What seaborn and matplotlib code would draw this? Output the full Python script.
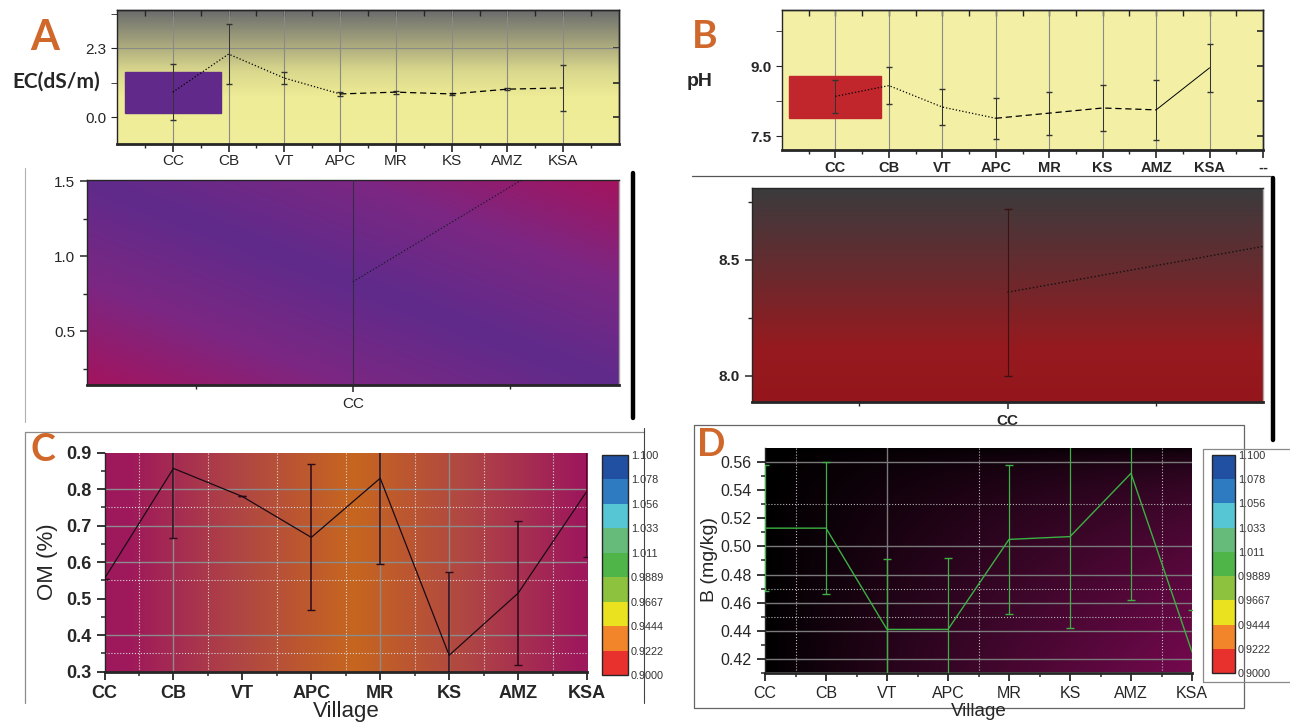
import numpy as np
import matplotlib
matplotlib.use('Agg')
import matplotlib.pyplot as plt
import seaborn as sns
from matplotlib.colors import LinearSegmentedColormap, ListedColormap, BoundaryNorm
from matplotlib.cm import ScalarMappable
from matplotlib.lines import Line2D
from matplotlib.patches import Rectangle
from matplotlib.ticker import NullFormatter

# data
villages = ['CC', 'CB', 'VT', 'APC', 'MR', 'KS', 'AMZ', 'KSA']
ec_mean = [0.83, 2.10, 1.30, 0.77, 0.83, 0.77, 0.93, 0.97]
ec_err = [0.93, 1.00, 0.20, 0.08, 0.05, 0.03, 0.04, 0.78]
ph_mean = [8.36, 8.59, 8.13, 7.89, 8.00, 8.11, 8.07, 8.97]
ph_err = [0.36, 0.39, 0.39, 0.44, 0.46, 0.50, 0.64, 0.52]
om_mean = [0.555, 0.857, 0.78, 0.668, 0.83, 0.345, 0.515, 0.795]
om_err = [0.0, 0.19, 0.0, 0.20, 0.235, 0.228, 0.198, 0.182]
b_mean = [0.513, 0.513, 0.441, 0.441, 0.505, 0.507, 0.552, 0.425]
b_err = [0.045, 0.047, 0.05, 0.051, 0.053, 0.065, 0.09, 0.03]
cbar_levels = [0.9000, 0.9222, 0.9444, 0.9667, 0.9889, 1.011, 1.033, 1.056, 1.078, 1.100]
cbar_labels = ['0.9000', '0.9222', '0.9444', '0.9667', '0.9889', '1.011', '1.033', '1.056', '1.078', '1.100']
cbar_colors = ['#e8312d', '#f2852a', '#ebe21f', '#8dc23f', '#4fb548', '#66bb7a', '#56c5d4', '#2f7bc2', '#2150a2']

sns.set_style('ticks')
plt.rcParams['font.family'] = ['Liberation Sans', 'DejaVu Sans']
plt.rcParams['axes.linewidth'] = 1.0

W, H = 1290, 722
fig = plt.figure(figsize=(12.9, 7.22), dpi=100)
ORANGE = '#d0672b'
xs = list(range(len(villages)))
u = np.linspace(0, 1, 300)
U, V = np.meshgrid(u, u)


def box(l, t, r, b):
    return [l / W, 1 - b / H, (r - l) / W, (b - t) / H]


def ftext(x, y, s, **kw):
    fig.text(x / W, 1 - y / H, s, **kw)


def fline(xx, yy, **kw):
    fig.add_artist(Line2D([x / W for x in xx], [1 - y / H for y in yy],
                          transform=fig.transFigure, **kw))


def backdrop(ax, img, cmap):
    x0, x1 = ax.get_xlim()
    y0, y1 = ax.get_ylim()
    ax.imshow(img, extent=[x0, x1, y0, y1], origin='lower', aspect='auto',
              cmap=cmap, vmin=0, vmax=1, zorder=0, interpolation='bilinear')
    ax.set_xlim(x0, x1)
    ax.set_ylim(y0, y1)


def inner_ticks(ax, xmaj, xmin, ymaj, ymin):
    top = ax.secondary_xaxis('top')
    top.set_xticks(xmaj)
    top.set_xticks(xmin, minor=True)
    top.xaxis.set_major_formatter(NullFormatter())
    top.tick_params(which='both', direction='in', length=4, width=1)
    right = ax.secondary_yaxis('right')
    right.set_yticks(ymaj)
    right.set_yticks(ymin, minor=True)
    right.yaxis.set_major_formatter(NullFormatter())
    right.tick_params(which='both', direction='in', length=4, width=1.2)


def level_bar(rect):
    cax = fig.add_axes(rect)
    cmap = ListedColormap(cbar_colors)
    norm = BoundaryNorm(cbar_levels, cmap.N)
    cb = fig.colorbar(ScalarMappable(norm=norm, cmap=cmap), cax=cax, ticks=cbar_levels)
    cb.ax.set_yticklabels(cbar_labels, fontsize=7.8, color='#333333')
    cb.ax.tick_params(length=0, pad=2)
    cb.outline.set_linewidth(1.0)


# ---------------- A (EC) ----------------
axA = fig.add_axes(box(117, 10, 619, 144))
axA.set_xlim(-1, 8)
axA.set_ylim(-0.9, 3.57)
cmapA = LinearSegmentedColormap.from_list('a', [(0, '#f0ee9a'), (0.35, '#eeec96'), (0.55, '#d9d78c'),
                                                (0.75, '#a7a67d'), (1, '#6b6d6d')])
backdrop(axA, V, cmapA)
for x in xs:
    axA.axvline(x, color='#8a8a86', lw=0.8, zorder=1)
axA.axhline(2.3, color='#8a8a86', lw=0.8, zorder=1)
axA.add_patch(Rectangle((-0.86, 0.13), 1.72, 1.37, color='#612a8a', zorder=2))
axA.errorbar(xs, ec_mean, yerr=ec_err, fmt='none', ecolor='#333333', elinewidth=0.7, capsize=2.5, zorder=3)
sns.lineplot(x=xs[:4], y=ec_mean[:4], ax=axA, color='k', lw=0.9, linestyle=':', zorder=4)
sns.lineplot(x=xs[3:], y=ec_mean[3:], ax=axA, color='k', lw=0.9, linestyle=(0, (5, 3)), zorder=4)
axA.set_xticks(xs, villages, fontsize=11)
axA.set_xticks(np.arange(-0.5, 8, 1), minor=True)
axA.set_yticks([0.0, 2.3], ['0.0', '2.3'], fontsize=11)
axA.set_yticks([1.15, 3.45], minor=True)
axA.tick_params(axis='x', which='major', length=6, width=1.2, pad=1)
axA.tick_params(axis='x', which='minor', length=3, width=1)
axA.tick_params(axis='y', which='both', length=4)
inner_ticks(axA, xs, np.arange(-0.5, 8, 1), [0.0, 2.3], [1.15])
axA.spines['bottom'].set_linewidth(2)
axA.set_xlabel('')
axA.set_ylabel('')

# ---------------- B (pH) ----------------
axB = fig.add_axes(box(782, 10, 1263, 150))
axB.set_xlim(-1, 8)
axB.set_ylim(7.21, 10.21)
axB.set_facecolor('#f3f0a6')
for x in xs:
    axB.axvline(x, color='#8a8a86', lw=0.8, zorder=1)
axB.add_patch(Rectangle((-0.86, 7.90), 1.72, 0.90, color='#c0262b', zorder=2))
axB.errorbar(xs, ph_mean, yerr=ph_err, fmt='none', ecolor='#333333', elinewidth=0.7, capsize=2.5, zorder=3)
sns.lineplot(x=xs[:4], y=ph_mean[:4], ax=axB, color='k', lw=0.9, linestyle=':', zorder=4)
sns.lineplot(x=xs[3:7], y=ph_mean[3:7], ax=axB, color='k', lw=0.9, linestyle=(0, (5, 3)), zorder=4)
sns.lineplot(x=xs[6:], y=ph_mean[6:], ax=axB, color='k', lw=0.7, zorder=4)
axB.set_xticks(xs + [8], villages + ['--'], fontsize=10.5, fontweight='bold')
axB.set_xticks(np.arange(-0.5, 8, 1), minor=True)
axB.set_yticks([7.5, 9.0], ['7.5', '9.0'], fontsize=11, fontweight='bold')
axB.set_yticks([8.25, 9.75], minor=True)
axB.tick_params(axis='x', which='major', length=6, width=1.2, pad=2)
axB.tick_params(axis='x', which='minor', length=3, width=1)
axB.tick_params(axis='y', which='both', length=4)
inner_ticks(axB, xs, np.arange(-0.5, 8, 1), [7.5, 9.0], [8.25, 9.75])
axB.spines['bottom'].set_linewidth(2)
axB.set_xlabel('')
axB.set_ylabel('')

# ---------------- zoom of A rectangle ----------------
axA2 = fig.add_axes(box(87, 180, 619, 385))
axA2.set_xlim(-0.845, 0.845)
axA2.set_ylim(0.14, 1.51)
cmapA2 = LinearSegmentedColormap.from_list('a2', ['#5f2b8b', '#7b2783', '#a3145e'])
backdrop(axA2, np.abs(U + V - 1), cmapA2)
axA2.axvline(0, color='#3a2a4a', lw=0.8, zorder=1)
axA2.errorbar(xs[:2], ec_mean[:2], yerr=ec_err[:2], fmt='none', ecolor='#3a2a4a', elinewidth=0.7, capsize=3, zorder=3)
sns.lineplot(x=xs[:2], y=ec_mean[:2], ax=axA2, color='#1a1a2a', lw=0.9, linestyle=':', zorder=4)
axA2.set_xticks([0], ['CC'], fontsize=11)
axA2.set_xticks([-0.5, 0.5], minor=True)
axA2.set_yticks([0.5, 1.0, 1.5], ['0.5', '1.0', '1.5'], fontsize=11)
axA2.set_yticks([0.25, 0.75, 1.25], minor=True)
axA2.tick_params(which='major', length=5, width=1.1)
axA2.tick_params(which='minor', length=3, width=1)
axA2.spines['bottom'].set_linewidth(2)
axA2.spines['right'].set_color('#aaaaaa')
axA2.set_xlabel('')
axA2.set_ylabel('')

# ---------------- zoom of B rectangle ----------------
axB2 = fig.add_axes(box(752, 188, 1263, 402))
axB2.set_xlim(-0.86, 0.86)
axB2.set_ylim(7.886, 8.81)
cmapB2 = LinearSegmentedColormap.from_list('b2', [(0, '#94161c'), (0.25, '#961a1f'), (0.6, '#6a2a2e'), (1, '#3b3b3d')])
backdrop(axB2, V, cmapB2)
axB2.errorbar(xs[:2], ph_mean[:2], yerr=ph_err[:2], fmt='none', ecolor='#3a1212', elinewidth=0.8, capsize=3, zorder=3)
sns.lineplot(x=xs[:2], y=ph_mean[:2], ax=axB2, color='#111111', lw=1.0, linestyle=':', zorder=4)
axB2.set_xticks([0], ['CC'], fontsize=11, fontweight='bold')
axB2.set_xticks([-0.5, 0.5], minor=True)
axB2.set_yticks([8.0, 8.5], ['8.0', '8.5'], fontsize=11, fontweight='bold')
axB2.set_yticks([8.25, 8.75], minor=True)
axB2.tick_params(which='major', length=5, width=1.1)
axB2.tick_params(which='minor', length=3, width=1)
axB2.spines['bottom'].set_linewidth(2)
axB2.spines['right'].set_color('#aaaaaa')
axB2.set_xlabel('')
axB2.set_ylabel('')

# ---------------- C (OM) ----------------
axC = fig.add_axes(box(104.5, 452.7, 587, 671.7))
axC.set_xlim(0, 7)
axC.set_ylim(0.3, 0.9)
cmapC = LinearSegmentedColormap.from_list('c', ['#9e185c', '#b04644', '#c6661f'])
backdrop(axC, np.clip(1 - np.abs(U * 7 - 3.6) / 3.3, 0, 1), cmapC)
for y in [0.4, 0.6, 0.7, 0.8]:
    axC.axhline(y, color='#8c8c8c', lw=1.0, zorder=1)
for y in [0.35, 0.55, 0.75]:
    axC.axhline(y, color='#d8d8d8', lw=0.8, ls=':', zorder=1)
for x in [1, 4, 5]:
    axC.axvline(x, color='#8c8c8c', lw=1.0, zorder=1)
for x in np.arange(0.5, 7, 1):
    axC.axvline(x, color='#d8d8d8', lw=0.8, ls=':', zorder=1)
axC.errorbar(xs, om_mean, yerr=om_err, fmt='none', ecolor='#2a0a1a', elinewidth=1.1, capsize=3, zorder=3)
sns.lineplot(x=xs, y=om_mean, ax=axC, color='#1a0a14', lw=0.9, zorder=4)
axC.set_xticks(xs, villages, fontsize=13, fontweight='bold')
axC.set_xticks(np.arange(0.5, 7, 1), minor=True)
axC.set_yticks(np.arange(0.3, 0.91, 0.1), ['0.3', '0.4', '0.5', '0.6', '0.7', '0.8', '0.9'],
               fontsize=13, fontweight='bold')
axC.set_yticks(np.arange(0.35, 0.9, 0.1), minor=True)
axC.tick_params(which='major', length=6, width=1.3)
axC.tick_params(which='minor', length=3, width=1.1)
axC.spines['bottom'].set_linewidth(2)
axC.spines['top'].set_visible(False)
axC.spines['right'].set_visible(False)
axC.set_xlabel('')
axC.set_ylabel('')
level_bar(box(602, 455, 628, 675))

# ---------------- D (B) ----------------
axD = fig.add_axes(box(765, 448, 1192, 673))
axD.set_xlim(0, 7)
axD.set_ylim(0.4105, 0.570)
cmapD = LinearSegmentedColormap.from_list('d', ['#000000', '#3a0628', '#74094e'])
backdrop(axD, U ** 0.9 * (1 - V) ** 0.45, cmapD)
for y in [0.42, 0.44, 0.46, 0.48, 0.50, 0.56]:
    axD.axhline(y, color='#7a7a7a', lw=1.0, zorder=1)
for y in [0.45, 0.47, 0.53]:
    axD.axhline(y, color='#bbbbbb', lw=0.8, ls=':', zorder=1)
axD.axvline(2, color='#7a7a7a', lw=1.0, zorder=1)
for x in [0.5, 3.5, 6.5]:
    axD.axvline(x, color='#bbbbbb', lw=0.8, ls=':', zorder=1)
axD.errorbar(xs, b_mean, yerr=b_err, fmt='none', ecolor='#3cb043', elinewidth=0.9, capsize=3, zorder=3)
sns.lineplot(x=xs, y=b_mean, ax=axD, color='#3cb043', lw=1.0, zorder=4)
axD.set_xticks(xs, villages, fontsize=11.5)
axD.set_xticks(np.arange(0.5, 7, 1), minor=True)
axD.set_yticks(np.arange(0.42, 0.561, 0.02), ['0.42', '0.44', '0.46', '0.48', '0.50', '0.52', '0.54', '0.56'],
               fontsize=11.5)
axD.set_yticks(np.arange(0.41, 0.57, 0.02), minor=True)
axD.tick_params(which='major', length=6, width=1.3)
axD.tick_params(which='minor', length=3, width=1.1)
axD.spines['bottom'].set_linewidth(2)
axD.spines['top'].set_visible(False)
axD.spines['right'].set_visible(False)
axD.set_xlabel('')
axD.set_ylabel('')
level_bar(box(1212, 455, 1235, 673))

# ---------------- labels and frames ----------------
lato = ['Lato', 'DejaVu Sans']
ftext(45, 38, 'A', color=ORANGE, fontsize=30, fontweight='bold', family=lato, ha='center', va='center')
ftext(705, 37, 'B', color=ORANGE, fontsize=28, fontweight='bold', family=lato, ha='center', va='center')
ftext(43, 450, 'C', color=ORANGE, fontsize=27, fontweight='bold', family=lato, ha='center', va='center')
ftext(711, 445, 'D', color=ORANGE, fontsize=27, fontweight='bold', family=lato, ha='center', va='center')
ftext(56, 82, 'EC(dS/m)', fontsize=15, fontweight='bold', family=lato, ha='center', va='center')
ftext(700, 82, 'pH', fontsize=14, fontweight='bold', ha='center', va='center')
ftext(48, 562, 'OM (%)', fontsize=16, rotation=90, ha='center', va='center')
ftext(346, 711, 'Village', fontsize=16, ha='center', va='center')
ftext(709, 560, 'B (mg/kg)', fontsize=14, rotation=90, ha='center', va='center')
ftext(979, 712, 'Village', fontsize=13.5, ha='center', va='center')

grey = '#8c8c8c'
fline([25, 25], [168, 422], color='#b0b0b0', lw=0.8)
fline([633, 633], [173, 418], color='k', lw=3.2)
fline([692, 1271], [176, 176], color='#555555', lw=0.9)
fline([1273, 1273], [178, 440], color='k', lw=3.2)
fline([25, 644], [432, 432], color=grey, lw=0.9)
fline([25, 25], [432, 703], color=grey, lw=0.9)
fline([644, 644], [428, 703], color='#444444', lw=0.8)
fline([694, 1244, 1244, 694, 694], [425, 425, 708, 708, 425], color='#666666', lw=0.9)
fline([1290, 1203, 1203, 1290], [449, 449, 682, 682], color='#888888', lw=0.9)

fig.savefig('out.png', dpi=100)
